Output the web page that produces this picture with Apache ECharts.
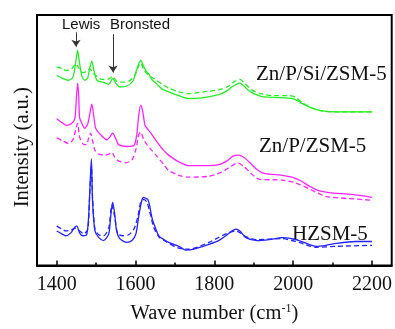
<!DOCTYPE html>
<html>
<head>
<meta charset="utf-8">
<script src="https://cdn.jsdelivr.net/npm/echarts@6/dist/echarts.min.js"></script>
<style>
  html, body { margin: 0; padding: 0; background: #fff; }
  #chart { width: 395px; height: 329px; }
</style>
</head>
<body>
<div id="chart"></div>
<script>
// wave number ticks
const tickValues = [1400, 1600, 1800, 2000, 2200];
const minorTickValues = [1500, 1700, 1900, 2100];

// spectra: [wave number, intensity (a.u., offset stacked)]
const znpsiSolid = [
  [1400, 198], [1415, 195], [1430, 193], [1441, 196], [1448, 211], [1453, 224], [1458, 211],
  [1464, 197], [1471, 193], [1479, 196], [1484, 206], [1489, 213], [1494, 204], [1502, 193],
  [1517, 191], [1532, 189], [1542, 195], [1550, 190], [1560, 186], [1578, 187], [1593, 192],
  [1603, 204], [1613, 214], [1618, 210], [1626, 203], [1634, 199], [1641, 194], [1654, 189],
  [1667, 184], [1684, 181], [1710, 177], [1735, 174], [1773, 175], [1811, 178], [1832, 182],
  [1844, 186], [1857, 189], [1865, 190], [1875, 187], [1888, 182], [1900, 179], [1921, 176],
  [1964, 175], [1997, 174], [2010, 172], [2022, 169], [2048, 164], [2073, 161], [2109, 160],
  [2200, 160]
];
const znpsiDashed = [
  [1400, 207], [1415, 205], [1425, 203], [1438, 205], [1448, 210], [1456, 206], [1466, 201],
  [1476, 202], [1484, 205], [1491, 201], [1499, 198], [1514, 194], [1530, 194], [1542, 197],
  [1552, 192], [1568, 191], [1583, 192], [1598, 198], [1608, 208], [1613, 211], [1621, 204],
  [1631, 199], [1649, 194], [1667, 189], [1684, 185], [1710, 181], [1735, 179], [1773, 181],
  [1811, 183], [1837, 187], [1852, 192], [1865, 194], [1877, 190], [1895, 183], [1918, 179],
  [1951, 177], [1989, 177], [2007, 175], [2022, 170], [2048, 164], [2073, 161], [2109, 160],
  [2200, 160]
];
const znpSolid = [
  [1400, 153], [1413, 149], [1425, 146], [1438, 148], [1446, 153], [1448, 161], [1453, 190],
  [1456, 176], [1458, 154], [1464, 148], [1471, 143], [1479, 148], [1484, 158], [1489, 168],
  [1494, 156], [1499, 143], [1512, 136], [1527, 131], [1535, 134], [1542, 138], [1550, 132],
  [1557, 126], [1578, 124], [1596, 125], [1603, 136], [1608, 156], [1613, 167], [1618, 161],
  [1624, 146], [1629, 143], [1639, 138], [1654, 129], [1669, 121], [1684, 115], [1710, 108],
  [1735, 104], [1773, 104], [1811, 105], [1832, 109], [1847, 114], [1862, 115], [1877, 112],
  [1893, 106], [1908, 100], [1926, 96], [1972, 94], [1997, 92], [2020, 88], [2040, 83],
  [2065, 78], [2091, 76], [2149, 74], [2200, 71]
];
const znpDashed = [
  [1400, 133], [1415, 130], [1430, 127], [1441, 131], [1448, 141], [1453, 148], [1458, 134],
  [1469, 126], [1476, 126], [1481, 133], [1486, 138], [1491, 130], [1497, 120], [1507, 116],
  [1522, 115], [1532, 116], [1540, 118], [1547, 113], [1557, 109], [1575, 107], [1591, 110],
  [1601, 121], [1608, 136], [1613, 139], [1621, 131], [1629, 126], [1639, 121], [1654, 114],
  [1672, 105], [1684, 99], [1710, 94], [1735, 92], [1786, 93], [1817, 97], [1837, 102],
  [1860, 107], [1875, 103], [1893, 96], [1913, 90], [1972, 89], [2007, 86], [2040, 80],
  [2083, 72], [2134, 70], [2200, 68]
];
const hzsmSolid = [
  [1400, 36], [1413, 33], [1423, 31], [1436, 34], [1446, 40], [1451, 41], [1458, 34],
  [1466, 31], [1476, 32], [1481, 51], [1488, 111], [1491, 66], [1497, 36], [1507, 29],
  [1519, 26], [1532, 33], [1537, 51], [1542, 66], [1547, 54], [1552, 36], [1560, 28],
  [1578, 24], [1591, 26], [1601, 33], [1608, 51], [1616, 68], [1621, 71], [1626, 70],
  [1631, 69], [1636, 62], [1641, 51], [1646, 44], [1659, 31], [1672, 27], [1684, 24],
  [1710, 20], [1728, 16], [1748, 17], [1786, 22], [1811, 26], [1829, 31], [1844, 36],
  [1855, 38], [1865, 36], [1880, 29], [1908, 26], [1939, 27], [1972, 29], [1997, 28],
  [2015, 26], [2040, 22], [2058, 20], [2083, 21], [2109, 23], [2159, 25], [2200, 25]
];
const hzsmDashed = [
  [1400, 41], [1413, 38], [1423, 36], [1436, 37], [1448, 39], [1458, 36], [1469, 33],
  [1479, 38], [1484, 76], [1488, 104], [1491, 71], [1497, 38], [1507, 32], [1519, 31],
  [1532, 39], [1540, 63], [1547, 51], [1555, 33], [1568, 31], [1583, 32], [1596, 38],
  [1606, 51], [1613, 66], [1621, 69], [1629, 66], [1636, 56], [1646, 40], [1659, 30],
  [1677, 25], [1710, 18], [1735, 17], [1786, 24], [1824, 32], [1855, 36], [1880, 30],
  [1908, 27], [1972, 28], [2015, 24], [2058, 19], [2109, 20], [2200, 21]
];

// annotation arrows: [wave number, from, to]
const arrowMarks = [
  [1449, 243, 228],
  [1543, 241, 201]
];

const chart = echarts.init(document.getElementById('chart'));

function spectrum(name, data, color, dashed, extra) {
  return Object.assign({
    name: name,
    type: 'line',
    data: data,
    smooth: 0.25,
    symbol: 'none',
    lineStyle: { color: color, width: 1.3, type: dashed ? [5, 3] : 'solid' },
    itemStyle: { color: color },
    z: dashed ? 2 : 3,
  }, extra || {});
}

const serif = '"Liberation Serif", "Times New Roman", serif';
const sans = '"Liberation Sans", Arial, sans-serif';

function label(text, x, y, family, size) {
  return {
    type: 'text', x: x, y: y,
    style: { text: text, font: size + 'px ' + family, fill: '#111', verticalAlign: 'middle' },
  };
}

const option = {
  backgroundColor: '#fff',
  animation: false,
  grid: {
    left: 37, right: 3, top: 15, bottom: 53,
    show: true, borderColor: '#000', borderWidth: 2,
  },
  xAxis: [
    {
      type: 'value', min: 1350, max: 2250,
      name: '{a|Wave number (cm}{s|-1}{a|)}',
      nameLocation: 'middle', nameGap: 37,
      nameTextStyle: {
        rich: {
          a: { fontFamily: serif, fontSize: 20.5, color: '#111' },
          s: { fontFamily: serif, fontSize: 12, color: '#111', verticalAlign: 'top', padding: [0, 0, 10, 0] },
        },
      },
      axisLine: { lineStyle: { color: '#000', width: 2 } },
      axisTick: { inside: true, length: 5, lineStyle: { color: '#000', width: 1.5 }, customValues: tickValues },
      axisLabel: {
        customValues: tickValues, formatter: (v) => String(v),
        fontFamily: serif, fontSize: 20, color: '#111', margin: 9,
      },
      splitLine: { show: false },
    },
    {
      type: 'value', min: 1350, max: 2250, position: 'bottom',
      axisLine: { show: false },
      axisTick: { inside: true, length: 3, lineStyle: { color: '#000', width: 1.5 }, customValues: minorTickValues },
      axisLabel: { show: false },
      splitLine: { show: false },
    },
  ],
  yAxis: {
    type: 'value', min: 0, max: 261,
    name: 'Intensity (a.u.)',
    nameLocation: 'middle', nameGap: 4,
    nameTextStyle: { fontFamily: serif, fontSize: 20.5, color: '#111', padding: [0, 14, 0, 0] },
    axisLine: { show: false },
    axisTick: { show: false },
    axisLabel: { show: false },
    splitLine: { show: false },
  },
  graphic: [
    label('Lewis', 62, 25, sans, 15),
    label('Bronsted', 110, 25, sans, 15),
    label('Zn/P/Si/ZSM-5', 256, 74, serif, 21),
    label('Zn/P/ZSM-5', 259, 146, serif, 21),
    label('HZSM-5', 292, 234, serif, 21),
  ],
  series: [
    spectrum('Zn/P/Si/ZSM-5', znpsiSolid, '#22ee22', false, {
      markLine: {
        silent: true,
        symbol: ['none', 'arrow'],
        symbolSize: 7,
        label: { show: false },
        lineStyle: { color: '#333', width: 1, type: 'solid' },
        data: arrowMarks.map((a) => [{ coord: [a[0], a[1]] }, { coord: [a[0], a[2]] }]),
      },
    }),
    spectrum('Zn/P/Si/ZSM-5 dashed', znpsiDashed, '#22ee22', true),
    spectrum('Zn/P/ZSM-5', znpSolid, '#ff22ff', false),
    spectrum('Zn/P/ZSM-5 dashed', znpDashed, '#ff22ff', true),
    spectrum('HZSM-5', hzsmSolid, '#2222ff', false),
    spectrum('HZSM-5 dashed', hzsmDashed, '#2222ff', true),
  ],
};

chart.setOption(option);
</script>
</body>
</html>
